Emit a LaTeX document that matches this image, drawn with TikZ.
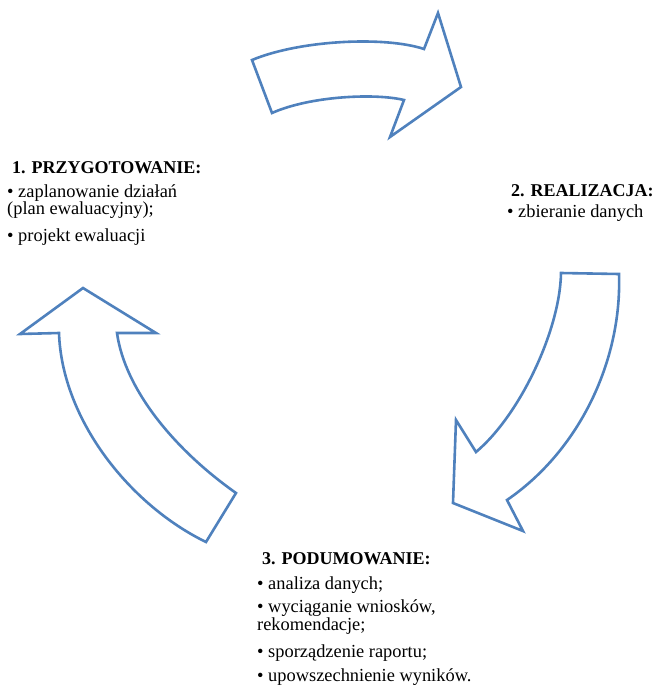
\documentclass[tikz,border=0pt]{standalone}
\usepackage{fontspec}
\setmainfont{Liberation Serif}
\definecolor{arrowblue}{RGB}{79,129,189}
\begin{document}
\begin{tikzpicture}[x=1pt,y=-1pt,
  cyclearrow/.style={draw=arrowblue,fill=white,line width=2.6pt,line join=miter},
  heading/.style={anchor=base west,inner sep=0pt,font=\fontsize{18}{22}\selectfont\bfseries},
  item/.style={anchor=base west,inner sep=0pt,align=left,font=\fontsize{18.4}{16.7}\selectfont}]
\useasboundingbox (0,0) rectangle (654,686);

% top arrow: preparation -> realisation
\draw[cyclearrow] (252,60) .. controls (300,40) and (385,36) .. (424,49)
  -- (438,13) -- (461,87) -- (390,137) -- (404,100)
  .. controls (375,93) and (310,96) .. (272,113) -- cycle;

% right arrow: realisation -> summary
\draw[cyclearrow] (561,273) -- (619,274)
  .. controls (622,360) and (580,450) .. (507,500)
  -- (523,531) -- (453,503) -- (456,420) -- (476,452)
  .. controls (520,415) and (560,330) .. cycle;

% left arrow: summary -> preparation
\draw[cyclearrow] (59,333) -- (20,334) -- (83,288) -- (156,333) -- (117,333)
  .. controls (125,390) and (175,450) .. (236,493)
  -- (206,542)
  .. controls (130,505) and (62,420) .. cycle;

% stage 1 (two-line items are placed by the baseline of their last line)
\node[heading] (t1) at (12,173) {1. PRZYGOTOWANIE:};
\node[item] (a1) at (7,214) {• zaplanowanie działań\\(plan ewaluacyjny);};
\node[item] (a3) at (7,241) {• projekt ewaluacji};

% stage 2
\node[heading] (t2) at (511,196) {2. REALIZACJA:};
\node[item] (b1) at (507,217) {• zbieranie danych};

% stage 3
\node[heading] (t3) at (262,564) {3. PODUMOWANIE:};
\node[item] (c1) at (257,589) {• analiza danych;};
\node[item] (c2) at (257,630.5) {• wyciąganie wniosków,\\rekomendacje;};
\node[item] (c4) at (257,657.5) {• sporządzenie raportu;};
\node[item] (c5) at (257,681.5) {• upowszechnienie wyników.};
\end{tikzpicture}
\end{document}
